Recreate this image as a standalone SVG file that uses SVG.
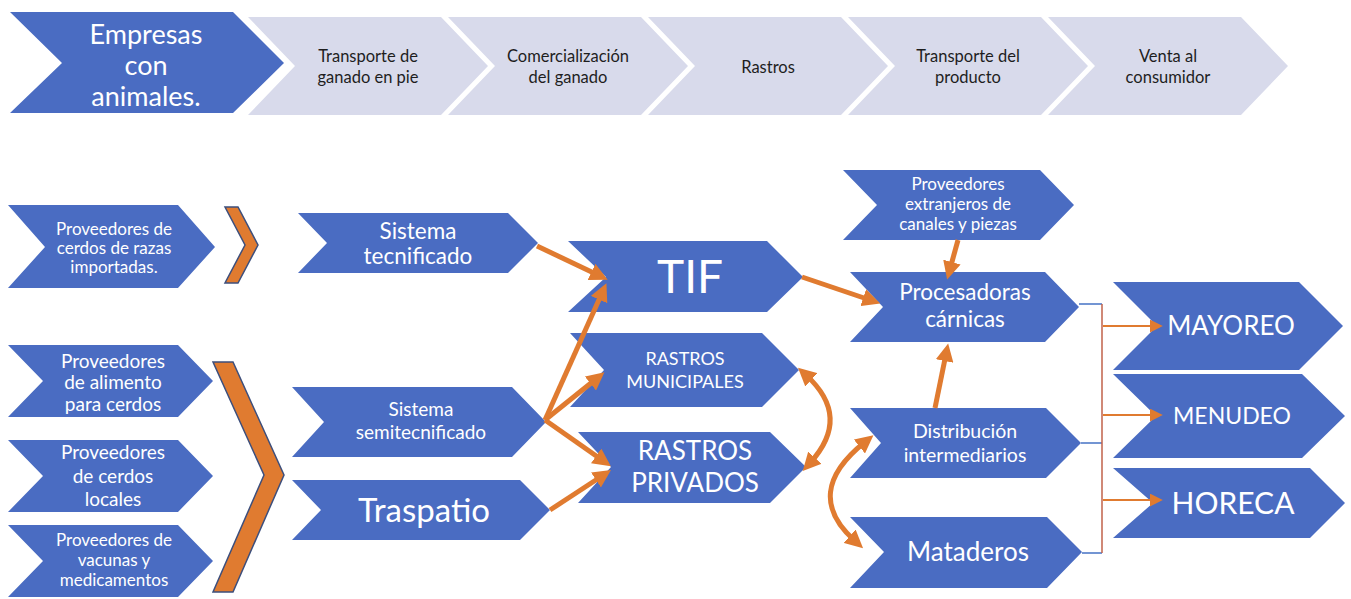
<svg xmlns="http://www.w3.org/2000/svg" width="1351" height="599" viewBox="0 0 1351 599">
<style>
.b{fill:#4a6cc2}
.g{fill:#d8daeb}
.o{fill:#e07b30;stroke:#3d4f7c;stroke-width:1.5}
text{font-family:Lato,"Liberation Sans",sans-serif;text-anchor:middle}
.w{fill:#ffffff}
.k{fill:#1e1e1e;font-size:16.5px}
.arr{fill:none;stroke:#e07b30;stroke-width:5}
.thin{fill:none;stroke:#e07b30;stroke-width:2}
.bl{fill:none;stroke:#4472c4;stroke-width:1.5}
.rd{fill:none;stroke:#c0624a;stroke-width:1.5}
</style>
<defs>
<marker id="ah" markerUnits="userSpaceOnUse" markerWidth="18" markerHeight="18" viewBox="0 0 10 10" refX="4" refY="5" orient="auto-start-reverse">
<path d="M0,0 L10,5 L0,10 z" fill="#e07b30"/>
</marker>
<marker id="ahs" markerUnits="userSpaceOnUse" markerWidth="13" markerHeight="13" viewBox="0 0 10 10" refX="4" refY="5" orient="auto">
<path d="M0,0 L10,5 L0,10 z" fill="#e07b30"/>
</marker>
</defs>
<rect width="1351" height="599" fill="#ffffff"/>

<!-- Top process row -->
<g id="top-venta">
<path class="g" d="M1048,17 L1241,17 L1288,66 L1241,115 L1048,115 L1095,66 Z"/>
<text class="k" x="1168" y="62">Venta al</text>
<text class="k" x="1168" y="83">consumidor</text>
</g>
<g id="top-transporte-producto">
<path class="g" d="M848,17 L1041,17 L1088,66 L1041,115 L848,115 L895,66 Z"/>
<text class="k" x="968" y="62">Transporte del</text>
<text class="k" x="968" y="83">producto</text>
</g>
<g id="top-rastros">
<path class="g" d="M648,17 L841,17 L888,66 L841,115 L648,115 L695,66 Z"/>
<text class="k" x="768" y="73">Rastros</text>
</g>
<g id="top-comercializacion">
<path class="g" d="M448,17 L641,17 L688,66 L641,115 L448,115 L495,66 Z"/>
<text class="k" x="568" y="62">Comercialización</text>
<text class="k" x="568" y="83">del ganado</text>
</g>
<g id="top-transporte-ganado">
<path class="g" d="M248,17 L441,17 L488,66 L441,115 L248,115 L295,66 Z"/>
<text class="k" x="368" y="62">Transporte de</text>
<text class="k" x="368" y="83">ganado en pie</text>
</g>
<g id="top-empresas">
<path class="b" d="M10,12 L233,12 L284,63 L233,113 L10,113 L62,63 Z"/>
<text class="w" x="146" y="44" font-size="27">Empresas</text>
<text class="w" x="146" y="75" font-size="27">con</text>
<text class="w" x="146" y="106" font-size="27">animales.</text>
</g>

<!-- Left column -->
<g id="prov-razas">
<path class="b" d="M8,205 L178,205 L215,247 L178,288 L8,288 L45,247 Z"/>
<text class="w" x="114" y="235" font-size="17">Proveedores de</text>
<text class="w" x="114" y="254" font-size="17">cerdos de razas</text>
<text class="w" x="114" y="273" font-size="17">importadas.</text>
</g>
<g id="prov-alimento">
<path class="b" d="M8,345 L178,345 L213,381 L178,417 L8,417 L43,381 Z"/>
<text class="w" x="113" y="368" font-size="19">Proveedores</text>
<text class="w" x="113" y="389" font-size="19">de alimento</text>
<text class="w" x="113" y="411" font-size="19">para cerdos</text>
</g>
<g id="prov-locales">
<path class="b" d="M8,440 L178,440 L213,476 L178,512 L8,512 L43,476 Z"/>
<text class="w" x="113" y="459" font-size="19">Proveedores</text>
<text class="w" x="113" y="483" font-size="19">de cerdos</text>
<text class="w" x="113" y="506" font-size="19">locales</text>
</g>
<g id="prov-vacunas">
<path class="b" d="M8,525 L178,525 L213,561 L178,597 L8,597 L43,561 Z"/>
<text class="w" x="114" y="546" font-size="17">Proveedores de</text>
<text class="w" x="114" y="566" font-size="17">vacunas y</text>
<text class="w" x="114" y="586" font-size="17">medicamentos</text>
</g>
<g id="chevron-small">
<path class="o" d="M225,207 L238,207 L258,245 L238,283 L225,283 L245,245 Z"/>
</g>
<g id="chevron-large">
<path class="o" d="M213,362 L233,362 L284,475 L233,592 L213,592 L264,475 Z"/>
</g>

<!-- Production systems -->
<g id="sistema-tecnificado">
<path class="b" d="M298,213 L508,213 L538,243 L508,273 L298,273 L327,243 Z"/>
<text class="w" x="418" y="239" font-size="22.5">Sistema</text>
<text class="w" x="418" y="264" font-size="22.5">tecnificado</text>
</g>
<g id="sistema-semitecnificado">
<path class="b" d="M292,387 L512,387 L546,422 L512,457 L292,457 L324,422 Z"/>
<text class="w" x="421" y="416" font-size="19">Sistema</text>
<text class="w" x="421" y="439" font-size="19">semitecnificado</text>
</g>
<g id="traspatio">
<path class="b" d="M292,480 L520,480 L550,510 L520,540 L292,540 L321,510 Z"/>
<text class="w" x="424" y="522" font-size="33">Traspatio</text>
</g>

<!-- Slaughter -->
<g id="tif">
<path class="b" d="M568,241 L767,241 L803,277 L767,312 L568,312 L606,277 Z"/>
<text class="w" x="690" y="293" font-size="46">TIF</text>
</g>
<g id="rastros-municipales">
<path class="b" d="M570,333 L762,333 L799,370 L762,407 L570,407 L604,370 Z"/>
<text class="w" x="685" y="365" font-size="18">RASTROS</text>
<text class="w" x="685" y="388" font-size="18">MUNICIPALES</text>
</g>
<g id="rastros-privados">
<path class="b" d="M578,432 L770,432 L806,467 L770,503 L578,503 L611,467 Z"/>
<text class="w" x="695" y="460" font-size="26">RASTROS</text>
<text class="w" x="695" y="492" font-size="26">PRIVADOS</text>
</g>

<!-- Processing / distribution -->
<g id="prov-extranjeros">
<path class="b" d="M843,170 L1040,170 L1074,205 L1040,240 L843,240 L877,205 Z"/>
<text class="w" x="958" y="190" font-size="17">Proveedores</text>
<text class="w" x="958" y="210" font-size="17">extranjeros de</text>
<text class="w" x="958" y="230" font-size="17">canales y piezas</text>
</g>
<g id="procesadoras">
<path class="b" d="M850,272 L1045,272 L1079,307 L1045,342 L850,342 L883,307 Z"/>
<text class="w" x="965" y="300" font-size="22.5">Procesadoras</text>
<text class="w" x="965" y="327" font-size="22.5">cárnicas</text>
</g>
<g id="distribucion">
<path class="b" d="M850,408 L1046,408 L1081,443 L1046,478 L850,478 L881,443 Z"/>
<text class="w" x="965" y="438" font-size="19.5">Distribución</text>
<text class="w" x="965" y="462" font-size="19.5">intermediarios</text>
</g>
<g id="mataderos">
<path class="b" d="M850,517 L1047,517 L1082,552 L1047,588 L850,588 L884,552 Z"/>
<text class="w" x="968" y="561" font-size="26">Mataderos</text>
</g>

<!-- Markets -->
<g id="mayoreo">
<path class="b" d="M1113,282 L1299,282 L1343,326 L1299,370 L1113,370 L1157,326 Z"/>
<text class="w" x="1231" y="335" font-size="26">MAYOREO</text>
</g>
<g id="menudeo">
<path class="b" d="M1113,374 L1302,374 L1345,416 L1302,458 L1113,458 L1156,416 Z"/>
<text class="w" x="1232" y="424" font-size="23">MENUDEO</text>
</g>
<g id="horeca">
<path class="b" d="M1113,468 L1310,468 L1345,503 L1310,538 L1113,538 L1153,503 Z"/>
<text class="w" x="1233" y="514" font-size="30">HORECA</text>
</g>

<!-- Connectors -->
<g id="connectors">
<path class="arr" d="M537,246 L598,275" marker-end="url(#ah)"/>
<path class="arr" d="M545,420 L602,293" marker-end="url(#ah)"/>
<path class="arr" d="M545,420 L596,379" marker-end="url(#ah)"/>
<path class="arr" d="M545,420 L602,460" marker-end="url(#ah)"/>
<path class="arr" d="M550,510 L602,476" marker-end="url(#ah)"/>
<path class="arr" d="M802,277 L870,300" marker-end="url(#ah)"/>
<path class="arr" d="M958,240 L950,269" marker-end="url(#ah)"/>
<path class="arr" d="M935,408 L946,354" marker-end="url(#ah)"/>
<path class="arr" d="M806,375 Q852,417 810,463" marker-start="url(#ah)" marker-end="url(#ah)"/>
<path class="arr" d="M865,442 Q801,493 855,541" marker-start="url(#ah)" marker-end="url(#ah)"/>
<path class="bl" d="M1079,304 L1102,304"/>
<path class="bl" d="M1081,443 L1102,443"/>
<path class="bl" d="M1082,553 L1102,553"/>
<path class="rd" d="M1102,304 L1102,553"/>
<path class="thin" d="M1103,326 L1155,326" marker-end="url(#ahs)"/>
<path class="thin" d="M1103,415 L1155,415" marker-end="url(#ahs)"/>
<path class="thin" d="M1103,500 L1155,500" marker-end="url(#ahs)"/>
</g>
</svg>
